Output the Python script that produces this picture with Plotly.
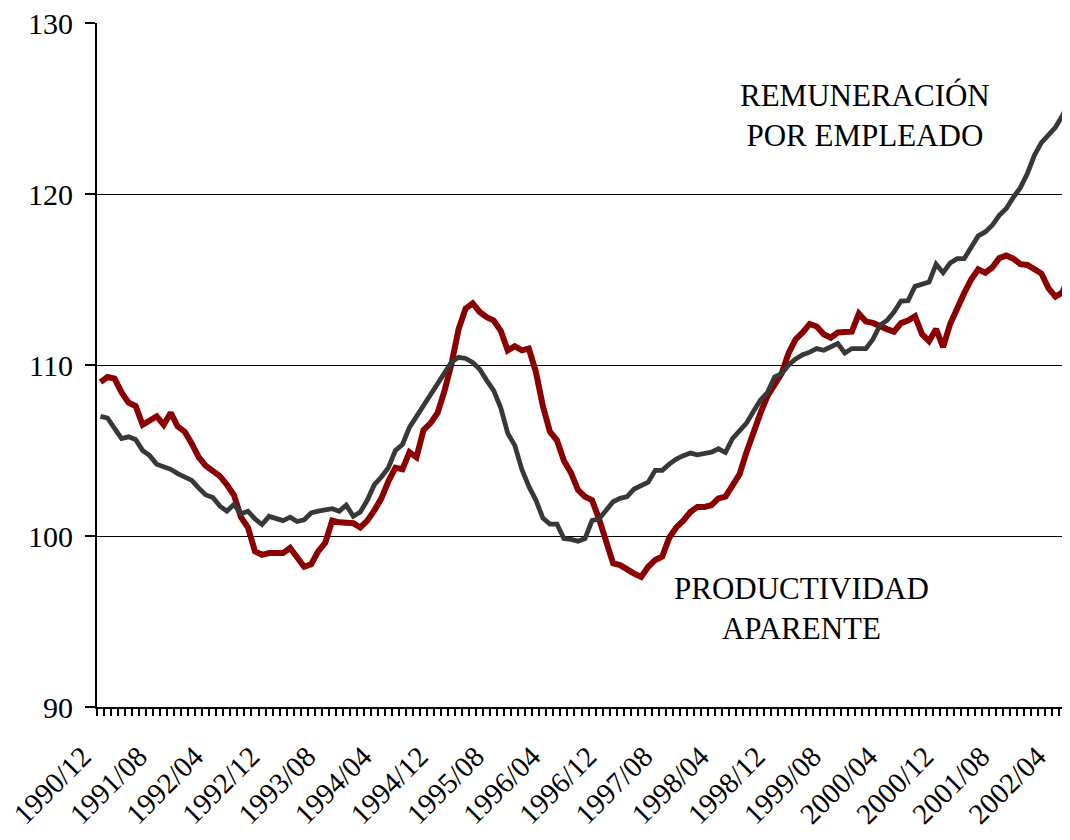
import plotly.graph_objects as go

# Monthly series 1990/12 ... 2002/06
start_year, start_month = 1990, 12

productividad = [
    109.0, 109.3, 109.2, 108.4, 107.8, 107.6, 106.5, 106.8, 107.0, 106.5,
    107.2, 106.4, 106.1, 105.4, 104.6, 104.1, 103.8, 103.5, 103.0, 102.4,
    101.1, 100.5, 99.1, 98.9, 99.0, 99.0, 99.0, 99.3, 98.8, 98.2,
    98.35, 99.1, 99.6, 100.9, 100.8, 100.8, 100.75, 100.5, 100.9, 101.5,
    102.2, 103.2, 104.0, 103.9, 104.9, 104.6, 106.2, 106.6, 107.2, 108.5,
    110.1, 112.1, 113.3, 113.6, 113.1, 112.8, 112.6, 112.0, 110.85, 111.1,
    110.86, 110.96, 109.6, 107.6, 106.1, 105.6, 104.4, 103.7, 102.7, 102.3,
    102.1, 101.0, 99.7, 98.4, 98.3, 98.0, 97.8, 97.6, 98.2, 98.6,
    98.8, 99.9, 100.5, 100.9, 101.4, 101.7, 101.7, 101.8, 102.2, 102.3,
    103.0, 103.6, 104.9, 106.1, 107.2, 108.2, 108.9, 109.5, 110.7, 111.5,
    111.9, 112.4, 112.25, 111.8, 111.6, 111.9, 111.93, 111.95, 113.0, 112.55,
    112.46, 112.25, 112.1, 111.95, 112.45, 112.6, 112.85, 111.8, 111.4, 112.1,
    111.05, 112.4, 113.4, 114.2, 115.0, 115.6, 115.4, 115.7, 116.25, 116.4,
    116.22, 115.9, 115.85, 115.6, 115.35, 114.5, 114.0, 114.25, 115.35,
]

remuneracion = [
    107.0, 106.9, 106.3, 105.7, 105.8, 105.65, 105.0, 104.7, 104.2, 104.05,
    103.9, 103.65, 103.45, 103.25, 102.8, 102.4, 102.25, 101.75, 101.45, 101.85,
    101.3, 101.45, 101.0, 100.67, 101.15, 101.0, 100.9, 101.1, 100.85, 100.95,
    101.35, 101.45, 101.5, 101.6, 101.45, 101.8, 101.15, 101.4, 102.1, 103.0,
    103.45, 104.0, 105.0, 105.35, 106.35, 107.0, 107.6, 108.3, 109.0, 109.65,
    110.18, 110.45, 110.38, 110.15, 109.75, 109.1, 108.5, 107.5, 106.0, 105.3,
    103.9, 102.9, 102.1, 101.05, 100.7, 100.7, 99.85, 99.8, 99.7, 99.85,
    100.9, 101.0, 101.5, 102.0, 102.2, 102.3, 102.75, 102.95, 103.15, 103.84,
    103.84, 104.2, 104.5, 104.7, 104.85, 104.75, 104.85, 104.9, 105.1, 104.88,
    105.7, 106.15, 106.6, 107.3, 107.95, 108.4, 109.3, 109.5, 110.0, 110.35,
    110.6, 110.75, 110.96, 110.86, 111.05, 111.25, 110.7, 110.96, 110.96, 110.96,
    111.5, 112.32, 112.6, 113.1, 113.74, 113.76, 114.6, 114.7, 114.85, 115.9,
    115.4, 115.96, 116.22, 116.22, 116.9, 117.55, 117.78, 118.17, 118.75, 119.15,
    119.8, 120.37, 121.2, 122.26, 123.0, 123.45, 123.9, 124.6, 125.4,
]

n = len(productividad)
months = []
for i in range(n):
    m = start_month - 1 + i
    months.append(f"{start_year + m // 12}/{m % 12 + 1:02d}")

label_step = 8
label_idx = list(range(0, n, label_step))
label_text = [months[i] for i in label_idx]

y_ticks = [90, 100, 110, 120, 130]

FONT = "Liberation Serif, Times New Roman, serif"
RED = "#8B0000"
GRAY = "#383838"

x = list(range(n))

fig = go.Figure()
fig.add_trace(go.Scatter(x=x, y=productividad, mode="lines",
                         line=dict(color=RED, width=6), name="Productividad aparente",
                         hovertext=months))
fig.add_trace(go.Scatter(x=x, y=remuneracion, mode="lines",
                         line=dict(color=GRAY, width=4.8), name="Remuneración por empleado",
                         hovertext=months))

fig.add_annotation(x=108.9, y=124.57, text="REMUNERACIÓN<br>POR EMPLEADO", showarrow=False,
                   font=dict(family=FONT, size=31, color="black"), align="center")
fig.add_annotation(x=99.8, y=95.75, text="PRODUCTIVIDAD<br>APARENTE", showarrow=False,
                   font=dict(family=FONT, size=31, color="black"), align="center")

# page body has an 8px default margin: figure is sized so the page is exactly 1070x840
fig.update_layout(
    width=1062, height=824,
    margin=dict(l=89, r=0, t=15, b=125),
    paper_bgcolor="white", plot_bgcolor="white",
    showlegend=False,
    font=dict(family=FONT, color="black"),
)
fig.update_xaxes(
    range=[-0.5, 138.07], automargin=False,
    tickmode="array", tickvals=label_idx, ticktext=label_text,
    ticks="", tickangle=-45, ticklabeloverflow="allow",
    ticklabelshift=-18, ticklabelstandoff=19,
    tickfont=dict(family=FONT, size=29, color="black"),
    showgrid=False, zeroline=False,
    showline=True, linecolor="black", linewidth=2,
    minor=dict(tickvals=[i - 0.5 for i in range(n + 1)], ticks="outside",
               ticklen=7, tickwidth=2, tickcolor="black", showgrid=False),
)
fig.update_yaxes(
    range=[90, 130], tickvals=y_ticks, automargin=False, ticklabeloverflow="allow",
    ticks="outside", ticklen=10, tickwidth=2, tickcolor="black",
    tickfont=dict(family=FONT, size=30, color="black"),
    showgrid=True, gridcolor="black", gridwidth=1,
    zeroline=False, showline=True, linecolor="black", linewidth=2,
    ticklabelstandoff=6,
)

fig.write_html("out.html")
